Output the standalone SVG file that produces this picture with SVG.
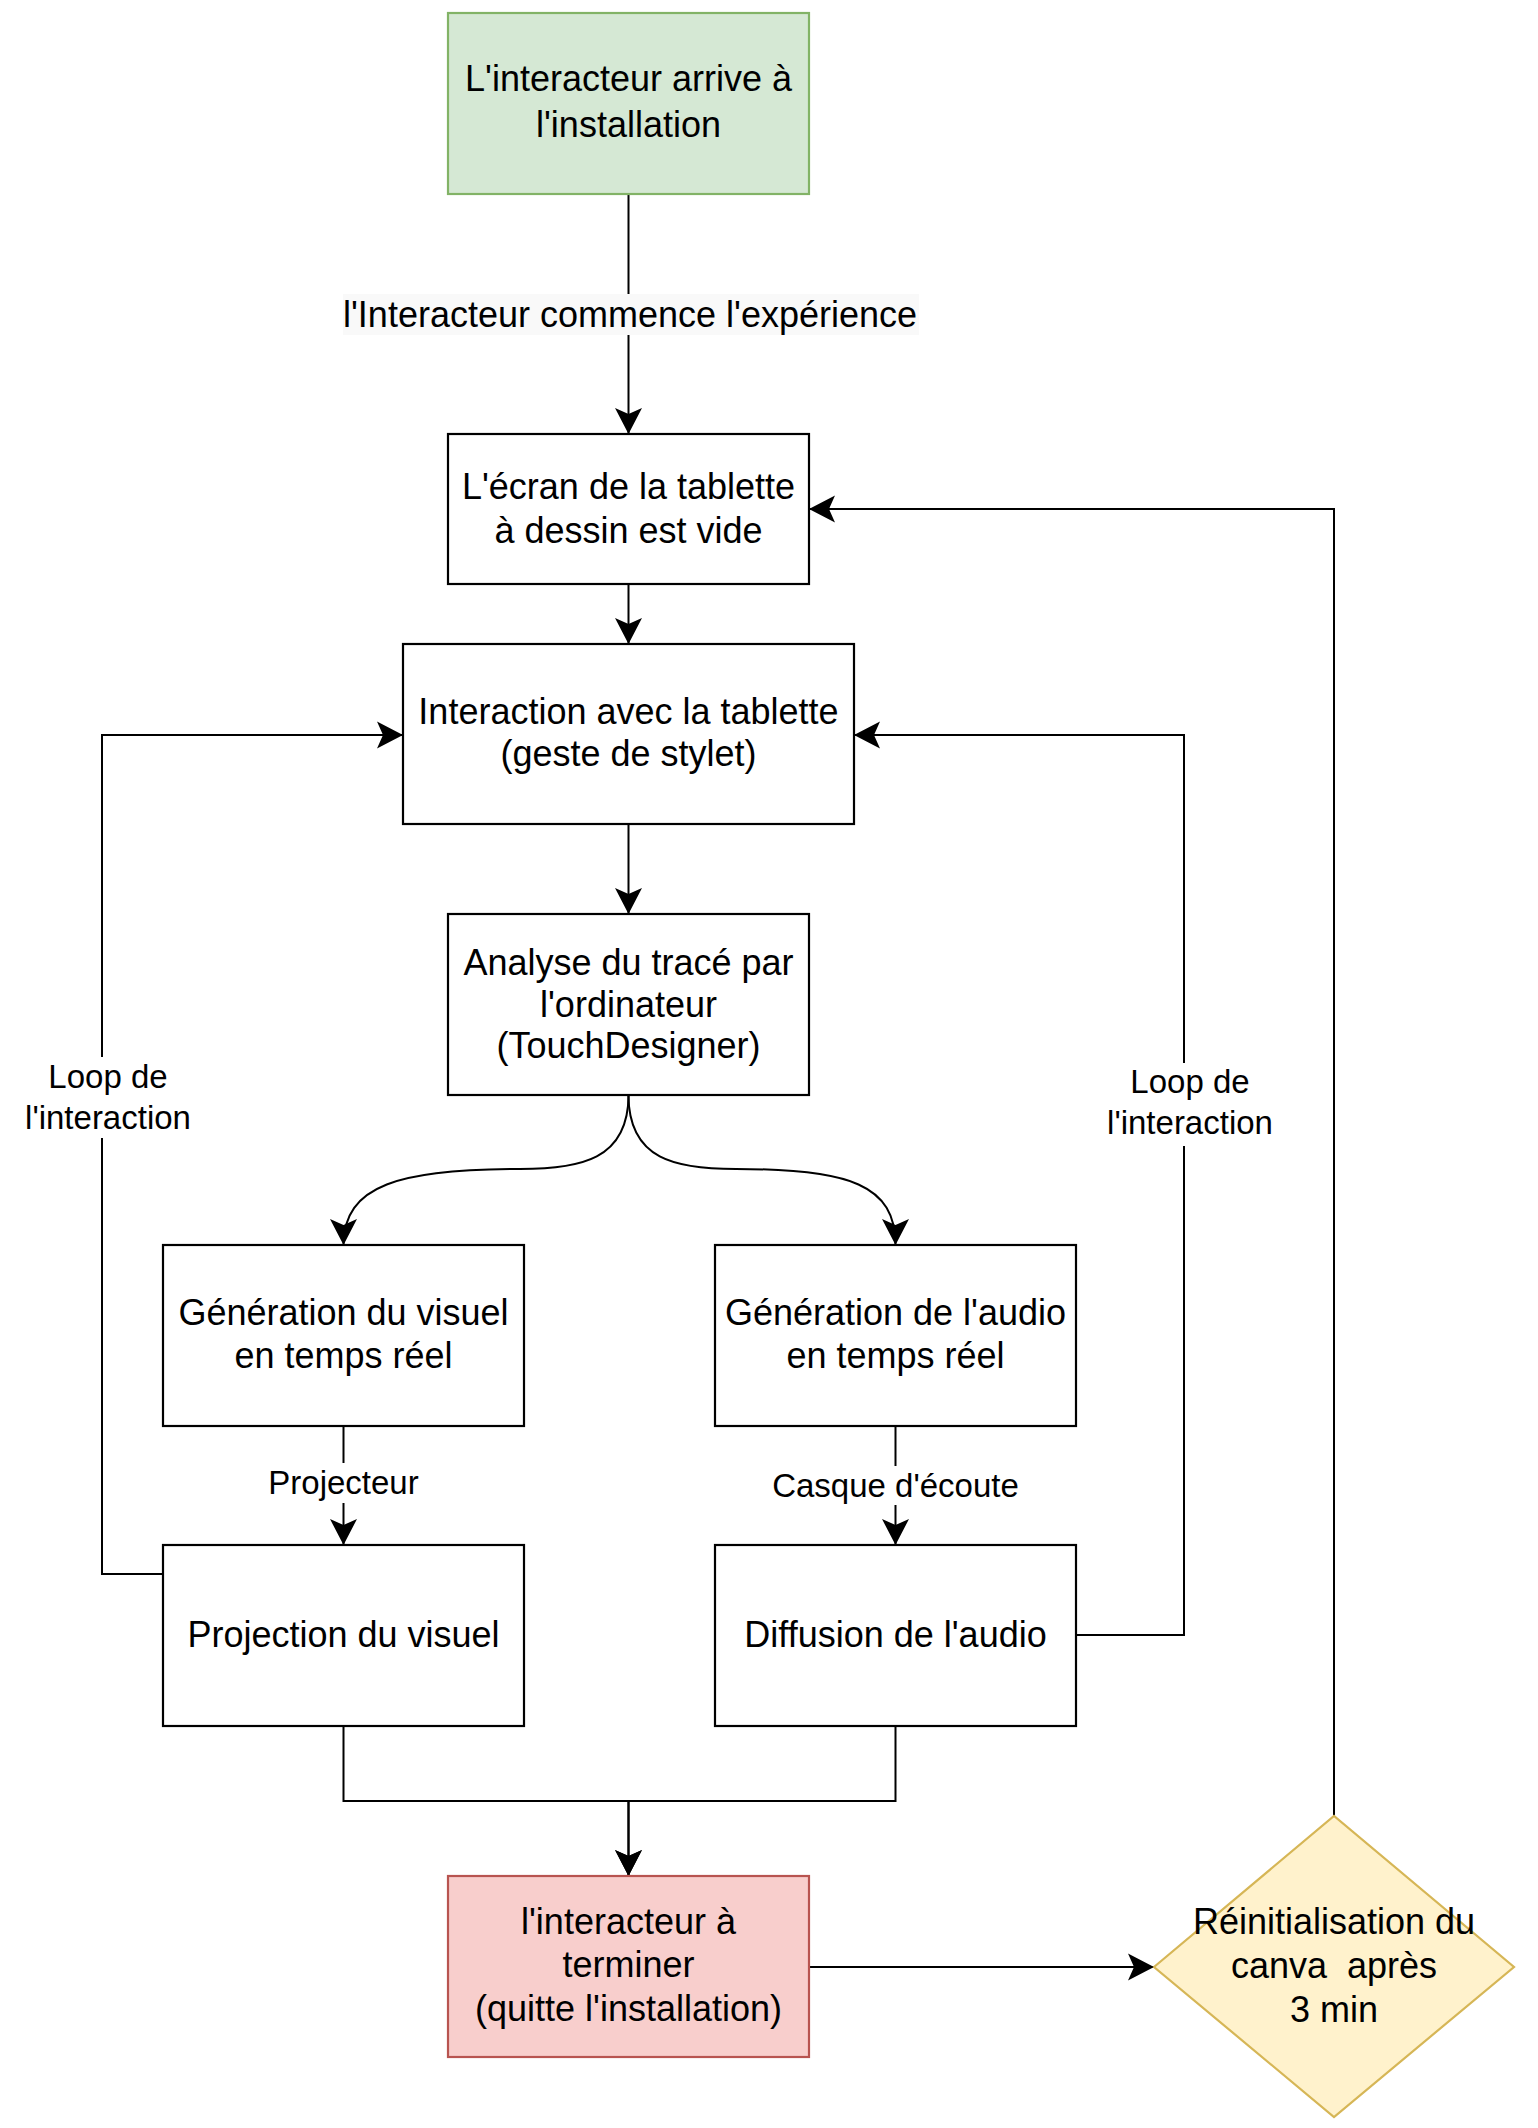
<svg xmlns="http://www.w3.org/2000/svg" width="1538" height="2128" viewBox="0 0 1538 2128">
<style>
  .box { fill: #ffffff; stroke: #000000; stroke-width: 2.2; }
  .green { fill: #d5e8d4; stroke: #82b366; stroke-width: 2.2; }
  .red { fill: #f8cecc; stroke: #b85450; stroke-width: 2.2; }
  .yellow { fill: #fff2cc; stroke: #d6b656; stroke-width: 2.2; }
  .t { font-family: "Liberation Sans", Arial, Helvetica, sans-serif; font-size: 36px; fill: #000; text-anchor: middle; }
  .lbl { font-family: "Liberation Sans", Arial, Helvetica, sans-serif; font-size: 33px; fill: #000; text-anchor: middle; }
  .edge { fill: none; stroke: #000; stroke-width: 2; }
  .arrow { marker-end: url(#arr); }
</style>
<defs>
  <marker id="arr" viewBox="-27 -14 28 28" refX="0" refY="0" markerWidth="28" markerHeight="28" markerUnits="userSpaceOnUse" orient="auto">
    <path d="M0,0 L-26,-13.5 L-20,0 L-26,13.5 Z" fill="#000"/>
  </marker>
</defs>
<rect width="1538" height="2128" fill="#ffffff"/>

<g id="connectors">
  <path class="edge arrow" d="M628.5,194 V434"/>
  <path class="edge arrow" d="M628.5,584 V644"/>
  <path class="edge arrow" d="M628.5,824 V914"/>
  <path class="edge arrow" d="M628.5,1095 C628.5,1160 580,1169 520,1169 C400,1169 343.5,1185 343.5,1245"/>
  <path class="edge arrow" d="M628.5,1095 C628.5,1160 676,1169 736,1169 C850,1169 895.5,1185 895.5,1245"/>
  <path class="edge arrow" d="M343.5,1426 V1545"/>
  <path class="edge arrow" d="M895.5,1426 V1545"/>
  <path class="edge arrow" d="M163,1574 H102 V735 H403"/>
  <path class="edge arrow" d="M1076,1635 H1184 V735 H854"/>
  <path class="edge arrow" d="M343.5,1726 V1801 H628.5 V1876"/>
  <path class="edge arrow" d="M895.5,1726 V1801 H628.5 V1876"/>
  <path class="edge arrow" d="M809,1967 H1154"/>
  <path class="edge arrow" d="M1334,1816 V509 H809"/>

  <rect x="343" y="294" width="576" height="41" fill="#f9f9f9"/>
  <text class="t" x="630" y="327">l'Interacteur commence l'expérience</text>

  <rect x="22" y="1057" width="172" height="81" fill="#ffffff"/>
  <text class="lbl" x="108" y="1088">Loop de</text>
  <text class="lbl" x="108" y="1129">l'interaction</text>

  <rect x="1104" y="1063" width="172" height="83" fill="#ffffff"/>
  <text class="lbl" x="1190" y="1093">Loop de</text>
  <text class="lbl" x="1190" y="1134">l'interaction</text>

  <rect x="266" y="1463" width="155" height="40" fill="#ffffff"/>
  <text class="lbl" x="343.5" y="1494">Projecteur</text>

  <rect x="766" y="1466" width="259" height="39" fill="#ffffff"/>
  <text class="lbl" x="895.5" y="1497">Casque d'écoute</text>
</g>

<g id="node-start">
  <rect class="green" x="448" y="13" width="361" height="181"/>
  <text class="t" x="628.5" y="91">L'interacteur arrive à</text>
  <text class="t" x="628.5" y="137">l'installation</text>
</g>

<g id="node-ecran">
  <rect class="box" x="448" y="434" width="361" height="150"/>
  <text class="t" x="628.5" y="499">L'écran de la tablette</text>
  <text class="t" x="628.5" y="543">à dessin est vide</text>
</g>

<g id="node-interaction">
  <rect class="box" x="403" y="644" width="451" height="180"/>
  <text class="t" x="628.5" y="724">Interaction avec la tablette</text>
  <text class="t" x="628.5" y="766">(geste de stylet)</text>
</g>

<g id="node-analyse">
  <rect class="box" x="448" y="914" width="361" height="181"/>
  <text class="t" x="628.5" y="975">Analyse du tracé par</text>
  <text class="t" x="628.5" y="1017">l'ordinateur</text>
  <text class="t" x="628.5" y="1058">(TouchDesigner)</text>
</g>

<g id="node-gen-visuel">
  <rect class="box" x="163" y="1245" width="361" height="181"/>
  <text class="t" x="343.5" y="1325">Génération du visuel</text>
  <text class="t" x="343.5" y="1368">en temps réel</text>
</g>

<g id="node-gen-audio">
  <rect class="box" x="715" y="1245" width="361" height="181"/>
  <text class="t" x="895.5" y="1325">Génération de l'audio</text>
  <text class="t" x="895.5" y="1368">en temps réel</text>
</g>

<g id="node-projection">
  <rect class="box" x="163" y="1545" width="361" height="181"/>
  <text class="t" x="343.5" y="1647">Projection du visuel</text>
</g>

<g id="node-diffusion">
  <rect class="box" x="715" y="1545" width="361" height="181"/>
  <text class="t" x="895.5" y="1647">Diffusion de l'audio</text>
</g>

<g id="node-fin">
  <rect class="red" x="448" y="1876" width="361" height="181"/>
  <text class="t" x="628.5" y="1934">l'interacteur à</text>
  <text class="t" x="628.5" y="1977">terminer</text>
  <text class="t" x="628.5" y="2021">(quitte l'installation)</text>
</g>

<g id="node-reinit">
  <polygon class="yellow" points="1154,1967 1334,1816 1514,1967 1334,2117"/>
  <text class="t" x="1334" y="1934">Réinitialisation du</text>
  <text class="t" x="1334" y="1978" style="white-space: pre" xml:space="preserve">canva  après</text>
  <text class="t" x="1334" y="2022">3 min</text>
</g>
</svg>
